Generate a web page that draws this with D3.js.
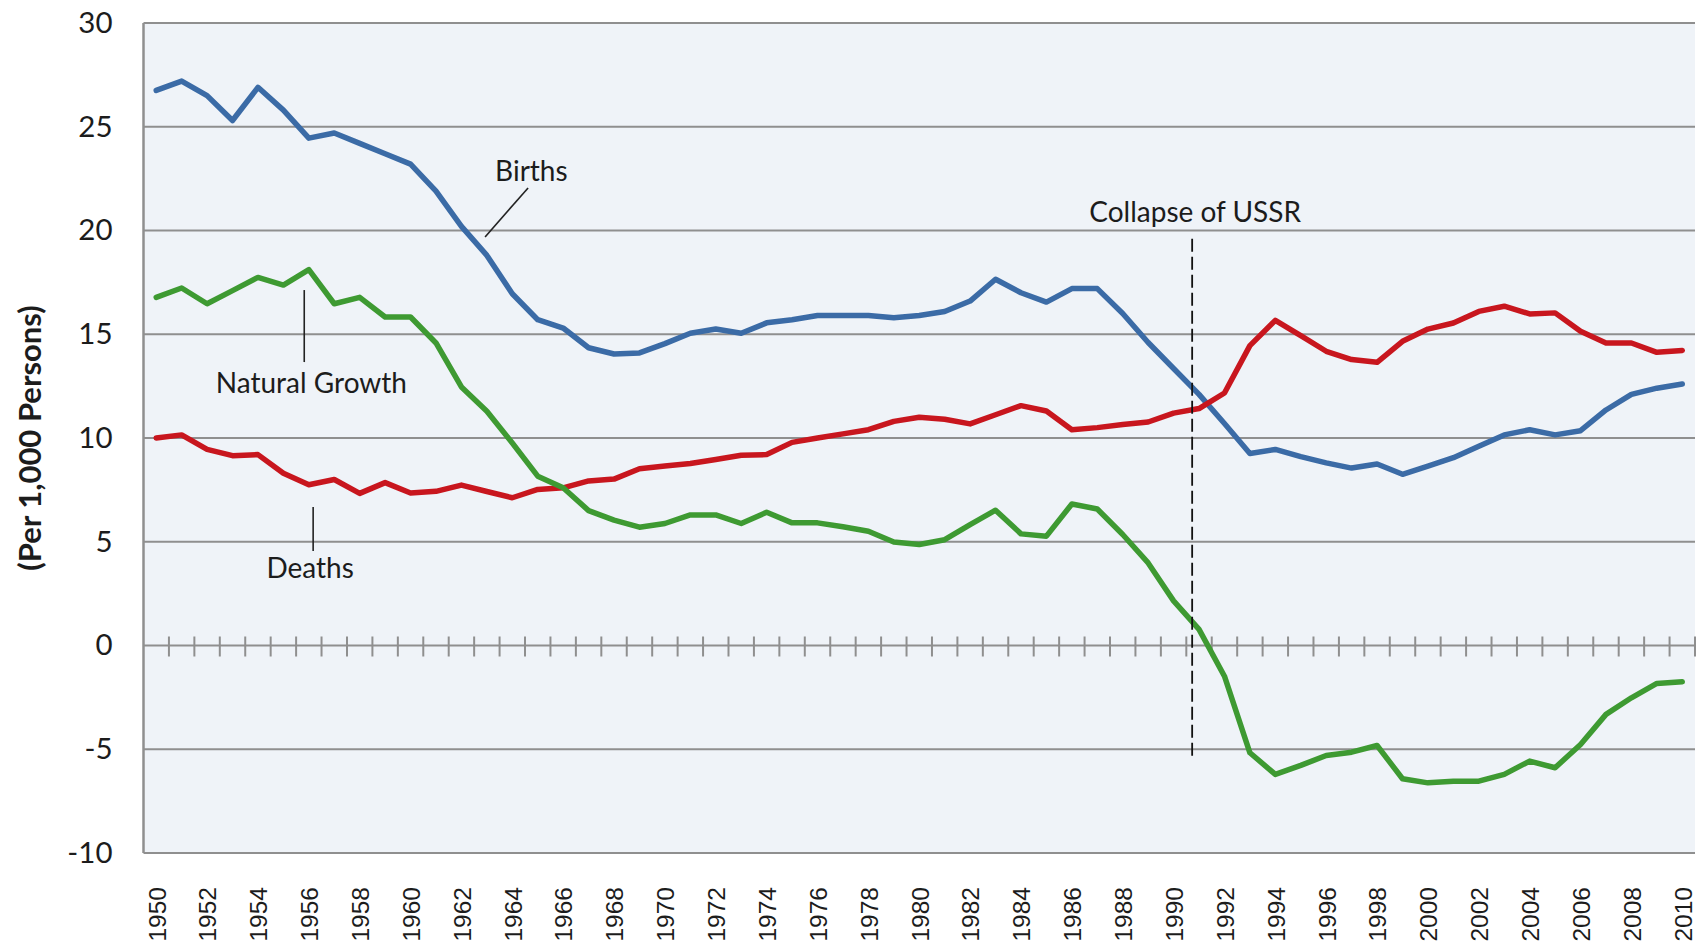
<!DOCTYPE html>
<html><head><meta charset="utf-8">
<script src="https://cdn.jsdelivr.net/npm/d3@7"></script>
<style>body{margin:0;background:#fff;} svg{display:block;}</style>
</head><body><svg id="chart" width="1704" height="945"></svg>
<script>
// ---------- data ----------
const years = [1950,1951,1952,1953,1954,1955,1956,1957,1958,1959,
  1960,1961,1962,1963,1964,1965,1966,1967,1968,1969,
  1970,1971,1972,1973,1974,1975,1976,1977,1978,1979,
  1980,1981,1982,1983,1984,1985,1986,1987,1988,1989,
  1990,1991,1992,1993,1994,1995,1996,1997,1998,1999,
  2000,2001,2002,2003,2004,2005,2006,2007,2008,2009,2010];
const births = [26.75,27.2,26.5,25.3,26.9,25.8,24.45,24.7,24.2,23.7,
  23.2,21.9,20.2,18.8,16.95,15.7,15.3,14.35,14.05,14.1,
  14.55,15.05,15.25,15.05,15.55,15.7,15.9,15.9,15.9,15.8,
  15.9,16.1,16.6,17.65,17.0,16.55,17.2,17.2,16.0,14.6,
  13.35,12.1,10.7,9.25,9.45,9.1,8.8,8.55,8.75,8.25,
  8.65,9.05,9.6,10.15,10.4,10.15,10.35,11.35,12.1,12.4,12.6];
const deaths = [10.0,10.15,9.45,9.15,9.2,8.3,7.75,8.0,7.33,7.85,
  7.35,7.43,7.73,7.42,7.12,7.52,7.6,7.93,8.02,8.52,
  8.65,8.77,8.96,9.17,9.2,9.79,10.0,10.2,10.4,10.8,
  11.0,10.9,10.68,11.12,11.56,11.3,10.4,10.5,10.65,10.77,
  11.2,11.42,12.17,14.45,15.67,14.93,14.18,13.78,13.65,14.66,
  15.25,15.54,16.1,16.35,15.98,16.03,15.14,14.58,14.58,14.13,14.22];
const naturalGrowth = [16.78,17.23,16.47,17.1,17.74,17.37,18.11,16.47,16.78,15.83,
  15.83,14.58,12.46,11.29,9.76,8.16,7.6,6.5,6.04,5.7,
  5.88,6.29,6.29,5.88,6.42,5.91,5.91,5.72,5.51,4.99,
  4.87,5.1,5.83,6.52,5.38,5.27,6.82,6.58,5.35,3.98,
  2.15,0.78,-1.48,-5.17,-6.21,-5.78,-5.3,-5.14,-4.82,-6.42,
  -6.62,-6.54,-6.54,-6.21,-5.57,-5.89,-4.77,-3.32,-2.52,-1.83,-1.75];
const yTicks = [-10,-5,0,5,10,15,20,25,30];
const xLabelYears = [1950,1952,1954,1956,1958,1960,1962,1964,1966,1968,1970,
  1972,1974,1976,1978,1980,1982,1984,1986,1988,1990,1992,1994,1996,1998,
  2000,2002,2004,2006,2008,2010];
const seriesNames = ["Births","Deaths","Natural Growth"];
const yAxisTitle = "(Per 1,000 Persons)";
const collapseLabel = "Collapse of USSR";
const collapseYear = 1990.73;          // position of the dashed marker (year units)
const collapseRange = [19.6, -5.4];    // vertical extent of the dashed marker (value units)
// label annotations in data units: text centre, leader line ends
const labelNotes = [
  {text: "Births", tx: 1964.75, ty: 22.87, line: [[1964.62, 22.05], [1962.93, 19.69]]},
  {text: "Natural Growth", tx: 1956.1, ty: 12.65, line: [[1955.82, 17.13], [1955.82, 13.66]]},
  {text: "Deaths", tx: 1956.05, ty: 3.73, line: [[1956.17, 6.67], [1956.17, 4.55]]}
];

// ---------- layout ----------
const plot = {left: 143.5, right: 1695, top: 23, bottom: 853};
const colors = {Births: "#3b6ba6", Deaths: "#c8161e", "Natural Growth": "#3e9a32"};
const gridColor = "#8f8f8f";
const textColor = "#1c1c1c";
const sansFont = "Lato, 'Open Sans', sans-serif";

const svg = d3.select("#chart");
const x = d3.scaleLinear()
  .domain([years[0] - 0.5, years[years.length - 1] + 0.5])
  .range([plot.left, plot.right]);
const y = d3.scaleLinear().domain([-10, 30]).range([plot.bottom, plot.top]);

// plot background
svg.append("rect")
  .attr("x", plot.left).attr("y", plot.top)
  .attr("width", plot.right - plot.left).attr("height", plot.bottom - plot.top)
  .attr("fill", "#eff3f8");

// horizontal gridlines
svg.append("g").selectAll("line").data(yTicks).join("line")
  .attr("x1", plot.left).attr("x2", plot.right)
  .attr("y1", d => y(d)).attr("y2", d => y(d))
  .attr("stroke", gridColor).attr("stroke-width", 2);

// vertical axis line
svg.append("line")
  .attr("x1", plot.left).attr("x2", plot.left)
  .attr("y1", plot.top).attr("y2", plot.bottom)
  .attr("stroke", gridColor).attr("stroke-width", 2.5);

// category tick marks crossing the zero line (at category boundaries)
const boundaries = years.slice(1).map(yr => yr - 0.5).concat([years[years.length - 1] + 0.5]);
svg.append("g").selectAll("line").data(boundaries).join("line")
  .attr("x1", d => x(d)).attr("x2", d => x(d))
  .attr("y1", y(0) - 9).attr("y2", y(0) + 11)
  .attr("stroke", gridColor).attr("stroke-width", 2);

// y axis labels
const yAxis = svg.append("g")
  .attr("transform", `translate(${plot.left},0)`)
  .call(d3.axisLeft(y).tickValues(yTicks).tickSize(0).tickPadding(31).tickFormat(d => String(d)));
yAxis.select(".domain").remove();
yAxis.selectAll("text")
  .attr("font-family", sansFont).attr("font-size", 29.5).attr("fill", textColor);

// x axis labels (rotated)
const xAxis = svg.append("g")
  .attr("transform", `translate(0,${887})`)
  .call(d3.axisBottom(x).tickValues(xLabelYears).tickSize(0).tickFormat(d => String(d)));
xAxis.select(".domain").remove();
xAxis.selectAll("text")
  .attr("y", 0).attr("x", 0).attr("dy", "0.36em")
  .attr("transform", "rotate(-90)")
  .attr("text-anchor", "end")
  .attr("font-family", "'Liberation Sans', Arial, sans-serif")
  .attr("font-size", 24.5).attr("fill", textColor);

// y axis title
svg.append("text")
  .attr("transform", `translate(30,${(plot.top + plot.bottom) / 2}) rotate(-90)`)
  .attr("text-anchor", "middle").attr("dy", "0.35em")
  .attr("font-family", sansFont).attr("font-weight", "bold").attr("font-size", 31)
  .attr("fill", textColor)
  .text(yAxisTitle);

// series lines
const seriesData = [
  {name: seriesNames[0], values: births},
  {name: seriesNames[1], values: deaths},
  {name: seriesNames[2], values: naturalGrowth}
];
const line = d3.line().x((d, i) => x(years[i])).y(d => y(d));
svg.append("g").selectAll("path").data(seriesData).join("path")
  .attr("d", d => line(d.values))
  .attr("fill", "none")
  .attr("stroke", d => colors[d.name])
  .attr("stroke-width", 5.5)
  .attr("stroke-linejoin", "round")
  .attr("stroke-linecap", "round");

// collapse of USSR marker
svg.append("line")
  .attr("x1", x(collapseYear)).attr("x2", x(collapseYear))
  .attr("y1", y(collapseRange[0])).attr("y2", y(collapseRange[1]))
  .attr("stroke", "#111").attr("stroke-width", 1.8)
  .attr("stroke-dasharray", "13,5");
svg.append("text")
  .attr("x", x(collapseYear) + 3).attr("y", y(20.89)).attr("dy", "0.35em")
  .attr("text-anchor", "middle")
  .attr("font-family", sansFont).attr("font-size", 28).attr("fill", textColor)
  .text(collapseLabel);

// series label annotations
const notes = svg.append("g");
notes.selectAll("line").data(labelNotes).join("line")
  .attr("x1", d => x(d.line[0][0])).attr("y1", d => y(d.line[0][1]))
  .attr("x2", d => x(d.line[1][0])).attr("y2", d => y(d.line[1][1]))
  .attr("stroke", "#222").attr("stroke-width", 1.6);
notes.selectAll("text").data(labelNotes).join("text")
  .attr("x", d => x(d.tx)).attr("y", d => y(d.ty)).attr("dy", "0.35em")
  .attr("text-anchor", "middle")
  .attr("font-family", sansFont).attr("font-size", 28).attr("fill", textColor)
  .text(d => d.text);
</script>
</body></html>
